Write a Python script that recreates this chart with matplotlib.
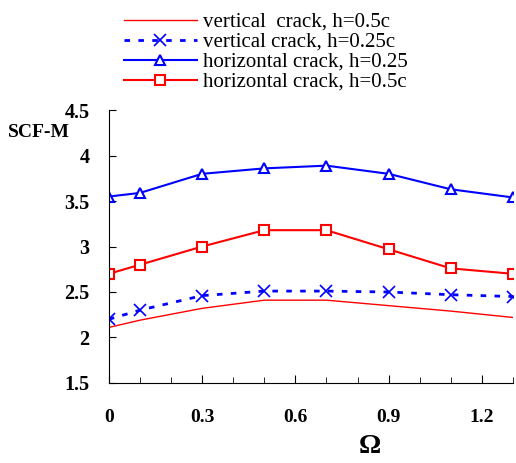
import matplotlib.pyplot as plt
from matplotlib.ticker import FixedLocator, MultipleLocator

# Omega values
omega = [0, 0.1, 0.3, 0.5, 0.7, 0.9, 1.1, 1.3]

# SCF-M values per case
vert_05c = [2.11, 2.19, 2.32, 2.41, 2.41, 2.35, 2.29, 2.22]
vert_025c = [2.20, 2.30, 2.46, 2.51, 2.51, 2.50, 2.47, 2.45]
horiz_025 = [3.55, 3.59, 3.80, 3.86, 3.89, 3.80, 3.63, 3.54]
horiz_05c = [2.70, 2.80, 3.00, 3.18, 3.18, 2.97, 2.76, 2.70]

labels = ["vertical  crack, h=0.5c", "vertical crack, h=0.25c",
          "horizontal crack, h=0.25", "horizontal crack, h=0.5c"]

xticks = [0, 0.3, 0.6, 0.9, 1.2]
xtick_labels = ["0", "0.3", "0.6", "0.9", "1.2"]
yticks = [1.5, 2, 2.5, 3, 3.5, 4, 4.5]
ytick_labels = ["1.5", "2", "2.5", "3", "3.5", "4", "4.5"]

plt.rcParams['font.family'] = ['Liberation Serif', 'DejaVu Serif']

fig = plt.figure(figsize=(5.16, 4.63), dpi=100)
ax = fig.add_axes([0.211, 0.173, 0.783, 0.589])

ax.plot(omega, vert_05c, color="red", lw=1.0, label=labels[0])
ax.plot(omega, vert_025c, color="blue", lw=2.0, ls=(0, (2, 3)),
        marker="x", ms=8, mew=1.2, label=labels[1])
ax.plot(omega, horiz_025, color="blue", lw=1.5, marker="^", ms=7,
        mfc="white", mew=1.5, label=labels[2])
ax.plot(omega, horiz_05c, color="red", lw=1.5, marker="s", ms=7,
        mfc="white", mew=1.5, label=labels[3])

ax.set_xlim(0, 1.3)
ax.set_ylim(1.5, 4.5)
ax.xaxis.set_major_locator(FixedLocator(xticks))
ax.xaxis.set_minor_locator(MultipleLocator(0.1))
ax.yaxis.set_major_locator(FixedLocator(yticks))
ax.set_xticklabels(xtick_labels)
ax.set_yticklabels(ytick_labels)

ax.spines["top"].set_visible(False)
ax.spines["right"].set_visible(False)
ax.tick_params(axis="x", which="major", direction="in", length=6, pad=19, labelsize=14)
ax.tick_params(axis="x", which="minor", direction="in", length=4)
ax.tick_params(axis="y", direction="in", length=5, pad=14, labelsize=14.5)
for t in ax.get_xticklabels() + ax.get_yticklabels():
    t.set_fontweight("bold")

fig.text(0.016, 0.705, "SCF-M", fontsize=14, fontweight="bold")
fig.text(0.716, 0.035, "Ω", fontsize=20, fontweight="bold", ha="center", va="center")

fig.legend(loc="upper left", bbox_to_anchor=(0.212, 1.005), frameon=False,
           fontsize=15, handlelength=3.5, handletextpad=0.3,
           labelspacing=0.02, borderaxespad=0.3)

fig.savefig("out.png", dpi=100)
